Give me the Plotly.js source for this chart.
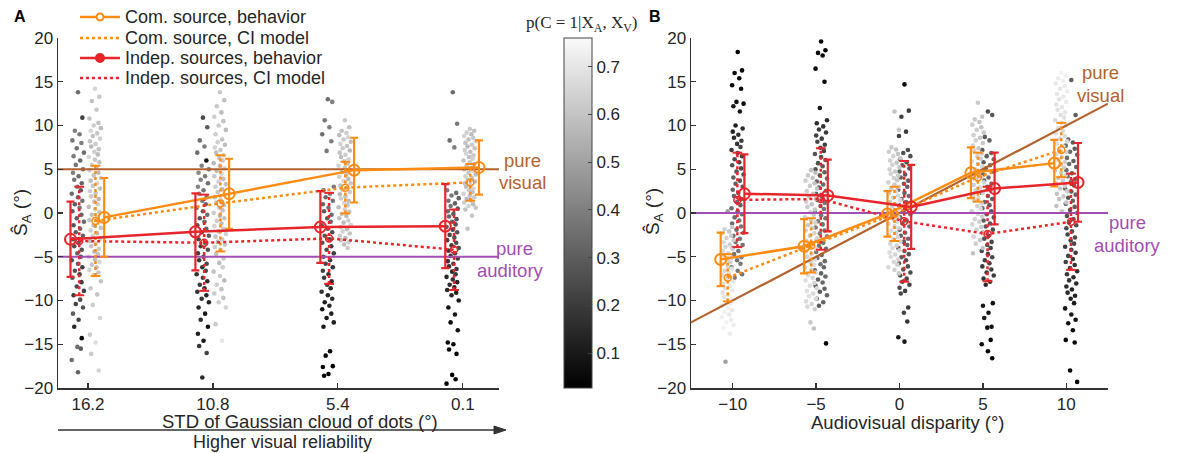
<!DOCTYPE html>
<html><head><meta charset="utf-8">
<script src="https://cdn.plot.ly/plotly-3.0.1.min.js"></script>
<style>html,body{margin:0;padding:0;background:#fff;} #chart{width:1193px;height:453px;}</style>
</head><body><div id="chart"></div>
<script>
const W = 1193, H = 453;

// ---------- Panel A data ----------
const catsA = [1, 2, 3, 4];
const tickTextA = ['16.2', '10.8', '5.4', '0.1'];
const comBehA = [-0.5, 2.2, 4.9, 5.2];
const comBehErrA = [4.5, 4.0, 3.7, 3.1];
const comModA = [-0.9, 1.1, 2.9, 3.5];
const comModErrA = [6.3, 5.5, 2.95, 2.1];
const indBehA = [-3.0, -2.15, -1.6, -1.5];
const indBehErrA = [4.3, 4.4, 4.1, 4.8];
const indModA = [-3.2, -3.4, -2.9, -4.2];
const indModErrA = [6.2, 5.5, 5.2, 4.6];
const pureVisualA = 5, pureAuditoryA = -5;

// dot clouds: [S_A estimate, p(C=1|XA,XV)]
const dotsA1dark = [[13.8,.35],[10.9,.22],[9.4,.4],[9.0,.38],[8.3,.38],[8.0,.4],[7.4,.36],[6.9,.35],[6.5,.4],[6.0,.33],[5.5,.38],[5.0,.35],[4.6,.4],[4.2,.34],[3.8,.38],[3.4,.33],[3.0,.38],[2.6,.3],[2.2,.35],[1.8,.32],[1.4,.36],[1.0,.3],[0.6,.38],[0.2,.3],[-0.2,.33],[-0.6,.3],[-1.0,.34],[-1.4,.28],[-1.8,.35],[-2.2,.3],[-2.6,.32],[-3.0,.25],[-3.4,.3],[-3.8,.27],[-4.2,.28],[-4.6,.32],[-5.0,.26],[-5.4,.25],[-5.8,.3],[-6.2,.22],[-6.6,.27],[-7.0,.22],[-7.4,.28],[-7.9,.2],[-8.4,.25],[-8.9,.22],[-9.4,.2],[-9.9,.26],[-10.4,.22],[-10.8,.28],[-11.5,.3],[-12.2,.22],[-13.0,.15],[-14.3,.06],[-15.3,.35],[-15.5,.3],[-16.8,.35],[-18.2,.32]];
const dotsA1light = [[14.2,.65],[13.3,.62],[12.8,.6],[11.8,.62],[10.8,.6],[10.3,.6],[10.0,.63],[9.7,.58],[9.4,.65],[9.1,.61],[8.8,.59],[8.5,.64],[8.2,.6],[7.9,.62],[7.6,.57],[7.3,.6],[7.0,.63],[6.7,.58],[6.4,.65],[6.1,.61],[5.8,.59],[5.5,.64],[5.2,.6],[4.9,.62],[4.6,.57],[4.3,.6],[4.0,.63],[3.7,.58],[3.4,.65],[3.1,.61],[2.8,.59],[2.5,.64],[2.2,.6],[1.9,.62],[1.6,.57],[1.3,.6],[1.0,.63],[0.7,.58],[0.4,.65],[0.1,.61],[-0.2,.59],[-0.5,.64],[-0.8,.6],[-1.1,.62],[-1.4,.57],[-1.7,.6],[-2.0,.63],[-2.3,.58],[-2.6,.65],[-2.9,.61],[-3.2,.59],[-3.5,.64],[-3.8,.6],[-4.1,.62],[-4.4,.57],[-4.7,.6],[-5.0,.63],[-5.3,.58],[-5.6,.65],[-5.9,.61],[-6.2,.59],[-6.5,.64],[-6.8,.6],[-7.1,.62],[-7.8,.6],[-8.6,.62],[-9.3,.6],[-10.5,.63],[-12.0,.65],[-13.9,.62],[-14.8,.68],[-16.1,.62],[-18.0,.65]];
const dotsA2dark = [[10.9,.25],[9.8,.3],[8.3,.35],[7.6,.4],[6.9,.35],[6.0,.08],[5.4,.4],[5.0,.36],[4.6,.42],[4.2,.38],[3.8,.4],[3.4,.35],[3.0,.42],[2.6,.37],[2.2,.4],[1.8,.34],[1.4,.38],[1.0,.32],[0.6,.36],[0.2,.3],[-0.2,.35],[-0.6,.28],[-1.0,.33],[-1.4,.27],[-1.8,.31],[-2.2,.25],[-2.6,.3],[-3.0,.24],[-3.4,.28],[-3.8,.22],[-4.2,.27],[-4.6,.21],[-5.0,.25],[-5.4,.2],[-5.8,.24],[-6.2,.18],[-6.6,.23],[-7.0,.17],[-7.4,.21],[-7.8,.16],[-8.2,.2],[-8.6,.15],[-9.0,.19],[-9.4,.14],[-9.8,.18],[-10.2,.13],[-10.8,.14],[-11.5,.1],[-12.2,.16],[-13.0,.08],[-13.8,.12],[-14.6,.1],[-15.2,.18],[-16.0,.22],[-18.8,.15]];
const dotsA2light = [[13.8,.62],[12.9,.6],[12.2,.62],[11.5,.58],[11.0,.63],[10.5,.6],[10.0,.62],[9.5,.58],[9.0,.63],[8.4,.6],[8.1,.63],[7.8,.58],[7.5,.65],[7.2,.61],[6.9,.59],[6.6,.64],[6.3,.6],[6.0,.62],[5.7,.57],[5.4,.6],[5.1,.63],[4.8,.58],[4.5,.65],[4.2,.61],[3.9,.59],[3.6,.64],[3.3,.6],[3.0,.62],[2.7,.57],[2.4,.6],[2.1,.63],[1.8,.58],[1.5,.65],[1.2,.61],[0.9,.59],[0.6,.64],[0.3,.6],[0.0,.62],[-0.3,.57],[-0.6,.6],[-0.9,.63],[-1.2,.58],[-1.5,.65],[-1.8,.61],[-2.1,.59],[-2.4,.64],[-2.7,.6],[-3.0,.62],[-3.3,.57],[-3.6,.6],[-3.9,.63],[-4.2,.58],[-4.7,.6],[-5.2,.62],[-5.7,.58],[-6.2,.63],[-6.7,.6],[-7.2,.62],[-7.7,.58],[-8.2,.63],[-8.7,.6],[-9.2,.62],[-9.7,.6],[-10.2,.63],[-10.8,.65],[-12.7,.62],[-14.6,.7]];
const dotsA3dark = [[13.0,.35],[12.7,.4],[10.6,.38],[9.8,.4],[9.0,.35],[8.2,.4],[7.1,.38],[3.0,.38],[2.6,.35],[2.2,.4],[1.8,.34],[1.4,.37],[1.0,.32],[0.6,.36],[0.2,.3],[-0.2,.34],[-0.6,.29],[-1.0,.33],[-1.4,.27],[-1.8,.31],[-2.2,.26],[-2.6,.29],[-3.0,.24],[-3.4,.28],[-3.8,.22],[-4.2,.26],[-4.6,.21],[-5.0,.25],[-5.4,.2],[-5.8,.23],[-6.2,.18],[-6.6,.22],[-7.0,.17],[-7.4,.2],[-7.8,.16],[-8.2,.19],[-8.6,.14],[-9.0,.17],[-9.4,.13],[-9.8,.16],[-10.2,.12],[-10.6,.14],[-11.0,.1],[-11.5,.13],[-12.0,.1],[-12.5,.12],[-13.0,.1],[-15.8,.05],[-16.3,.05],[-17.5,.04],[-17.6,.05],[-18.4,.04],[-18.6,.05]];
const dotsA3light = [[10.6,.62],[9.8,.6],[9.4,.6],[9.15,.63],[8.9,.58],[8.65,.65],[8.4,.61],[8.15,.59],[7.9,.64],[7.65,.6],[7.4,.62],[7.15,.57],[6.9,.6],[6.65,.63],[6.4,.58],[6.15,.65],[5.9,.61],[5.65,.59],[5.4,.64],[5.15,.6],[4.9,.62],[4.65,.57],[4.4,.6],[4.15,.63],[3.9,.58],[3.65,.65],[3.4,.61],[3.15,.59],[2.9,.64],[2.65,.6],[2.4,.62],[2.15,.57],[1.9,.6],[1.65,.63],[1.4,.58],[1.15,.65],[0.9,.61],[0.65,.59],[0.4,.64],[0.15,.6],[-0.1,.62],[-0.35,.57],[-0.6,.6],[-0.85,.63],[-1.1,.58],[-1.35,.65],[-1.6,.61],[-1.85,.59],[-2.1,.64],[-2.35,.6],[-2.6,.62],[-2.85,.57],[-3.1,.6],[-3.35,.63],[-3.6,.58],[-4.0,.62]];
const dotsA4dark = [[13.8,.35],[10.2,.38],[8.3,.35],[7.5,.4],[2.6,.4],[2.3,.35],[2.0,.38],[1.7,.33],[1.4,.37],[1.1,.32],[0.8,.36],[0.5,.3],[0.2,.34],[-0.1,.29],[-0.4,.33],[-0.7,.28],[-1.0,.31],[-1.3,.27],[-1.6,.3],[-1.9,.25],[-2.2,.28],[-2.5,.24],[-2.8,.27],[-3.1,.22],[-3.4,.26],[-3.7,.21],[-4.0,.24],[-4.3,.2],[-4.6,.23],[-4.9,.19],[-5.2,.22],[-5.5,.18],[-5.8,.21],[-6.1,.17],[-6.4,.2],[-6.7,.16],[-7.0,.19],[-7.3,.15],[-7.6,.18],[-7.9,.14],[-8.2,.16],[-8.5,.13],[-8.8,.15],[-9.1,.12],[-9.4,.14],[-10.0,.1],[-10.8,.08],[-11.6,.1],[-12.5,.06],[-13.4,.08],[-14.8,.05],[-15.0,.06],[-15.6,.05],[-16.1,.05],[-18.5,.04],[-19.0,.05],[-19.5,.04]];
const dotsA4light = [[9.6,.62],[9.4,.6],[9.2,.63],[9.0,.58],[8.8,.65],[8.6,.61],[8.4,.59],[8.2,.64],[8.0,.6],[7.8,.62],[7.6,.57],[7.4,.6],[7.2,.63],[7.0,.58],[6.8,.65],[6.6,.61],[6.4,.59],[6.2,.64],[6.0,.6],[5.8,.62],[5.6,.57],[5.4,.6],[5.2,.63],[5.0,.58],[4.8,.65],[4.6,.61],[4.4,.59],[4.2,.64],[4.0,.6],[3.8,.62],[3.6,.57],[3.4,.6],[3.2,.63],[3.0,.58],[2.8,.65],[2.6,.61],[2.4,.59],[2.2,.64],[2.0,.6],[1.8,.62],[1.6,.57],[1.4,.6],[1.2,.63],[1.0,.58],[0.8,.65],[0.6,.61],[0.4,.59],[-0.3,.62],[-1.8,.6]];

// ---------- Panel B data ----------
const catsB = [-10, -5, 0, 5, 10];
const comBehB = [-5.3, -3.8, -0.1, 4.6, 5.7];
const comBehErrB = [3.05, 3.1, 2.6, 2.9, 2.65];
const comModB = [-7.4, -3.7, -0.1, 4.1, 7.2];
const comModErrB = [2.7, 3.1, 3.1, 2.8, 3.1];
const indBehB = [2.2, 2.0, 0.7, 2.8, 3.5];
const indBehErrB = [4.5, 4.1, 4.8, 4.1, 4.5];
const indModB = [1.5, 1.6, -0.95, -2.4, -1.0];
const indModErrB = [5.4, 5.8, 6.9, 5.4, 5.5];
const pureAuditoryB = 0;

const dotsBm10dark = [[18.4,.04],[16.3,.05],[16.0,.05],[15.4,.06],[14.6,.05],[14.2,.06],[12.7,.08],[12.5,.06],[12.2,.1],[11.6,.1],[10.0,.12],[9.65,.15],[9.3,.13],[8.95,.16],[8.6,.15],[8.25,.2],[7.9,.18],[7.55,.22],[7.2,.2],[6.85,.24],[6.5,.22],[6.15,.25],[5.8,.23],[5.45,.27],[5.1,.25],[4.75,.28],[4.4,.26],[4.05,.3],[3.7,.28],[3.35,.31],[3.0,.29],[2.65,.32],[2.3,.3],[1.95,.33],[1.6,.31],[1.25,.34],[0.9,.32],[0.55,.35],[0.2,.33],[-0.15,.36],[-0.5,.34],[-0.85,.36],[-1.2,.34],[-1.55,.37],[-1.9,.35],[-2.25,.37],[-2.6,.35],[-2.95,.38],[-3.3,.36],[-3.65,.38],[-4.0,.36],[-4.35,.38],[-4.7,.36],[-5.05,.39],[-5.4,.36],[-5.8,.38],[-6.2,.36],[-6.6,.38],[-7.0,.36],[-7.4,.38]];
const dotsBm10light = [[0.2,.5],[-1.6,.62],[-1.85,.64],[-2.1,.61],[-2.35,.65],[-2.6,.62],[-2.85,.64],[-3.1,.63],[-3.35,.66],[-3.6,.63],[-3.85,.65],[-4.1,.64],[-4.35,.66],[-4.6,.64],[-4.85,.67],[-5.1,.65],[-5.35,.67],[-5.6,.65],[-5.85,.68],[-6.1,.66],[-6.35,.68],[-6.6,.66],[-6.85,.69],[-7.1,.67],[-7.35,.69],[-7.6,.67],[-7.85,.7],[-8.1,.68],[-8.35,.7],[-8.6,.68],[-8.85,.71],[-9.1,.69],[-9.35,.71],[-9.6,.69],[-9.85,.72],[-10.1,.7],[-10.35,.72],[-10.6,.7],[-10.85,.73],[-11.1,.71],[-11.35,.73],[-11.6,.71],[-11.9,.73],[-12.2,.72],[-12.5,.74],[-12.8,.72],[-13.1,.74],[-13.8,.72],[-17.0,.5]];
const dotsBm5dark = [[19.6,.04],[18.6,.04],[18.3,.05],[18.0,.05],[16.5,.05],[15.0,.05],[12.0,.1],[10.6,.15],[10.25,.16],[9.9,.18],[9.55,.2],[9.2,.19],[8.85,.22],[8.5,.2],[8.15,.24],[7.8,.22],[7.45,.25],[7.1,.23],[6.75,.27],[6.4,.25],[6.05,.28],[5.7,.26],[5.35,.3],[5.0,.28],[4.65,.31],[4.3,.29],[3.95,.33],[3.6,.31],[3.25,.34],[2.9,.32],[2.55,.35],[2.2,.33],[1.85,.36],[1.5,.34],[1.15,.37],[0.8,.35],[0.45,.37],[0.1,.35],[-0.25,.38],[-0.6,.36],[-0.95,.38],[-1.3,.36],[-1.65,.38],[-2.0,.36],[-2.35,.39],[-2.7,.36],[-3.05,.38],[-3.4,.36],[-3.75,.38],[-4.1,.35],[-4.45,.37],[-4.8,.35],[-5.15,.37],[-5.5,.34],[-5.85,.36],[-6.2,.33],[-6.55,.35],[-6.9,.32],[-7.25,.34],[-7.6,.31],[-7.95,.33],[-8.3,.3],[-8.65,.32],[-9.0,.3],[-9.4,.32],[-9.8,.3],[-10.2,.32],[-10.6,.3],[-14.9,.05]];
const dotsBm5light = [[4.9,.6],[4.6,.58],[4.3,.62],[4.0,.6],[3.7,.63],[3.4,.6],[3.1,.62],[2.8,.6],[2.5,.63],[2.2,.6],[1.9,.62],[1.6,.6],[1.3,.63],[1.0,.6],[0.7,.62],[0.4,.61],[0.1,.64],[-0.2,.61],[-0.5,.63],[-0.8,.61],[-1.1,.64],[-1.4,.62],[-1.7,.64],[-2.0,.62],[-2.3,.65],[-2.6,.62],[-2.9,.65],[-3.2,.63],[-3.5,.65],[-3.8,.63],[-4.1,.66],[-4.4,.63],[-4.7,.66],[-5.0,.64],[-5.3,.66],[-5.6,.64],[-5.9,.67],[-6.2,.64],[-6.5,.67],[-6.8,.65],[-7.1,.67],[-7.4,.65],[-7.7,.68],[-8.0,.65],[-8.3,.68],[-8.6,.66],[-8.9,.68],[-9.2,.66],[-9.5,.68],[-9.8,.66],[-10.1,.67],[-10.4,.65],[-10.7,.66],[-11.0,.64],[-12.5,.62],[-13.2,.6]];
const dotsB0dark = [[14.7,.05],[11.7,.2],[11.0,.22],[9.3,.2],[8.8,.22],[7.2,.25],[6.85,.27],[6.5,.26],[6.15,.28],[5.8,.27],[5.45,.3],[5.1,.28],[4.75,.31],[4.4,.29],[4.05,.32],[3.7,.3],[3.35,.33],[3.0,.31],[2.65,.34],[2.3,.32],[1.95,.35],[1.6,.33],[1.25,.35],[0.9,.33],[0.55,.36],[0.2,.33],[-0.15,.35],[-0.5,.32],[-0.85,.35],[-1.2,.32],[-1.55,.34],[-1.9,.31],[-2.25,.34],[-2.6,.31],[-2.95,.33],[-3.3,.3],[-3.65,.32],[-4.0,.29],[-4.35,.31],[-4.7,.28],[-5.05,.3],[-5.4,.27],[-5.75,.29],[-6.1,.26],[-6.45,.28],[-6.8,.25],[-7.15,.27],[-7.5,.24],[-7.85,.26],[-8.2,.23],[-8.55,.25],[-8.9,.22],[-9.2,.24],[-10.8,.2],[-11.4,.22],[-12.4,.18],[-14.2,.1],[-14.7,.1]];
const dotsB0light = [[11.6,.6],[9.5,.62],[7.5,.62],[7.25,.6],[7.0,.63],[6.75,.6],[6.5,.64],[6.25,.61],[6.0,.63],[5.75,.6],[5.5,.64],[5.25,.61],[5.0,.64],[4.75,.62],[4.5,.65],[4.25,.62],[4.0,.64],[3.75,.61],[3.5,.65],[3.25,.62],[3.0,.65],[2.75,.62],[2.5,.65],[2.25,.63],[2.0,.66],[1.75,.63],[1.5,.65],[1.25,.62],[1.0,.66],[0.75,.63],[0.5,.66],[0.25,.63],[0.0,.66],[-0.25,.63],[-0.5,.66],[-0.75,.64],[-1.0,.66],[-1.25,.63],[-1.5,.66],[-1.75,.64],[-2.0,.67],[-2.25,.64],[-2.5,.66],[-2.75,.64],[-3.0,.67],[-3.25,.64],[-3.5,.66],[-3.75,.64],[-4.0,.67],[-4.25,.65],[-4.5,.67],[-4.75,.65],[-5.0,.67],[-5.3,.65],[-5.6,.66],[-5.9,.64],[-6.2,.66],[-6.5,.64],[-6.9,.62]];
const dotsB5dark = [[11.6,.25],[11.2,.28],[8.7,.3],[8.3,.32],[7.2,.3],[6.85,.33],[6.5,.31],[6.15,.34],[5.8,.31],[5.45,.34],[5.1,.32],[4.75,.35],[4.4,.32],[4.05,.35],[3.7,.32],[3.35,.34],[3.0,.31],[2.65,.34],[2.3,.31],[1.95,.33],[1.6,.3],[1.25,.33],[0.9,.3],[0.55,.32],[0.2,.29],[-0.15,.31],[-0.5,.28],[-0.85,.3],[-1.2,.27],[-1.55,.29],[-1.9,.26],[-2.25,.28],[-2.6,.25],[-2.95,.27],[-3.3,.24],[-3.65,.26],[-4.0,.23],[-4.35,.25],[-4.7,.22],[-5.05,.24],[-5.4,.21],[-5.75,.23],[-6.1,.2],[-6.45,.22],[-6.8,.19],[-7.15,.21],[-7.5,.18],[-7.85,.2],[-8.2,.17],[-10.3,.08],[-10.6,.1],[-11.4,.08],[-12.0,.1],[-13.0,.07],[-13.1,.08],[-14.5,.05],[-15.0,.06],[-15.8,.05],[-16.6,.05]];
const dotsB5light = [[12.6,.62],[11.0,.6],[10.7,.62],[10.4,.6],[10.1,.63],[9.8,.6],[9.5,.63],[9.2,.61],[8.9,.64],[8.6,.61],[8.3,.64],[8.0,.61],[7.7,.64],[7.4,.62],[7.1,.65],[6.8,.62],[6.5,.65],[6.2,.62],[5.9,.65],[5.6,.62],[5.3,.65],[5.0,.62],[4.7,.65],[4.4,.62],[4.1,.65],[3.8,.63],[3.5,.65],[3.2,.63],[2.9,.66],[2.6,.63],[2.3,.65],[2.0,.63],[1.7,.66],[1.4,.63],[1.1,.65],[0.8,.63],[0.5,.66],[0.2,.63],[-0.1,.65],[-0.4,.63],[-0.7,.65],[-1.0,.63],[-1.3,.65],[-1.6,.62],[-1.9,.64],[-2.3,.62],[-2.7,.64],[-3.1,.62],[-3.5,.63],[-4.0,.61],[-4.6,.6]];
const dotsB10dark = [[15.2,.3],[11.2,.3],[8.4,.32],[8.05,.3],[7.7,.33],[7.35,.3],[7.0,.34],[6.65,.31],[6.3,.34],[5.95,.31],[5.6,.34],[5.25,.31],[4.9,.34],[4.55,.31],[4.2,.34],[3.85,.31],[3.5,.33],[3.15,.3],[2.8,.33],[2.45,.3],[2.1,.32],[1.75,.29],[1.4,.31],[1.05,.28],[0.7,.3],[0.35,.27],[0.0,.29],[-0.35,.26],[-0.7,.28],[-1.05,.25],[-1.4,.27],[-1.75,.24],[-2.1,.26],[-2.45,.23],[-2.8,.25],[-3.15,.22],[-3.5,.24],[-3.85,.21],[-4.2,.23],[-4.55,.2],[-4.9,.22],[-5.25,.19],[-5.6,.21],[-5.95,.18],[-6.3,.2],[-6.65,.17],[-7.0,.19],[-7.35,.16],[-7.7,.18],[-8.05,.15],[-8.4,.16],[-8.75,.13],[-9.1,.15],[-9.45,.12],[-9.8,.13],[-10.3,.1],[-10.9,.08],[-11.6,.1],[-12.2,.07],[-12.6,.08],[-13.4,.06],[-14.5,.05],[-14.8,.05],[-18.0,.04],[-19.3,.04]];
const dotsB10light = [[16.0,.74],[15.7,.73],[15.4,.72],[15.1,.73],[14.8,.71],[14.5,.72],[14.2,.7],[13.9,.72],[13.6,.7],[13.3,.71],[13.0,.69],[12.7,.71],[12.4,.69],[12.1,.7],[11.8,.68],[11.5,.7],[11.2,.68],[10.9,.69],[10.6,.67],[10.3,.69],[10.0,.67],[9.7,.68],[9.4,.66],[9.1,.68],[8.8,.66],[8.5,.67],[8.2,.65],[7.9,.67],[7.6,.65],[7.3,.66],[7.0,.64],[6.7,.66],[6.4,.64],[6.1,.65],[5.8,.63],[5.5,.65],[5.2,.63],[4.9,.64],[4.6,.62],[4.3,.64],[4.0,.62],[3.7,.63],[3.4,.61],[3.1,.63],[2.8,.61],[2.5,.62],[2.2,.6],[1.9,.62],[1.6,.6],[1.2,.61],[0.8,.6],[0.2,.6]];

// ---------- styling ----------
const ORANGE = '#FF8C12', RED = '#E8252B', BROWN = '#B3622D', PURPLE = '#A24EB3';
const FONT = 'Liberation Sans, Arial, sans-serif';
const TXT = '#262626';
const px = x => x / W, py = y => 1 - y / H;
// fixed horizontal spread pattern for the dot columns (fraction of half-width)
const SPREAD = [0, 0.7, -0.5, 0.25, -0.9, 0.55, -0.2, 0.95, -0.7, 0.35, -0.35, 0.8, -0.8, 0.1, -0.6, 0.6, -0.1, 0.45, -1.0];

function cloud(xc, pts, hw, xa, ya) {
  return {
    type: 'scatter', mode: 'markers', xaxis: xa, yaxis: ya,
    x: pts.map((_, i) => xc + SPREAD[i % SPREAD.length] * hw), y: pts.map(p => p[0]),
    marker: {size: 4.6, color: pts.map(p => p[1]), coloraxis: 'coloraxis', line: {width: 0}},
    hoverinfo: 'skip', showlegend: false
  };
}
function behav(xs, ys, es, col, xa, ya) {
  return {type: 'scatter', mode: 'lines+markers', x: xs, y: ys, xaxis: xa, yaxis: ya,
    line: {color: col, width: 2.5},
    marker: {symbol: 'circle-open', size: 11, color: col, line: {width: 2, color: col}},
    error_y: {type: 'data', array: es, visible: true, color: col, thickness: 2.2, width: 4},
    showlegend: false, hoverinfo: 'skip'};
}
function model(xs, ys, es, col, xa, ya) {
  const bx = [], by = [], cx = [], cy = [];
  xs.forEach((x, i) => { bx.push(x, x, null); by.push(ys[i] - es[i], ys[i] + es[i], null);
    cx.push(x, x); cy.push(ys[i] - es[i], ys[i] + es[i]); });
  return [
    {type: 'scatter', mode: 'lines', x: bx, y: by, xaxis: xa, yaxis: ya,
     line: {color: col, width: 2.5, dash: 'dot'}, showlegend: false, hoverinfo: 'skip'},
    {type: 'scatter', mode: 'markers', x: cx, y: cy, xaxis: xa, yaxis: ya,
     marker: {symbol: 'line-ew', size: 7, color: col, line: {width: 2, color: col}}, showlegend: false, hoverinfo: 'skip'},
    {type: 'scatter', mode: 'lines+markers', x: xs, y: ys, xaxis: xa, yaxis: ya,
     line: {color: col, width: 2.5, dash: 'dot'},
     marker: {symbol: 'circle-open', size: 7, color: col, line: {width: 1.5, color: col}}, showlegend: false, hoverinfo: 'skip'}
  ];
}
const off = (cats, d) => cats.map(c => c + d);

const rangeA = [0.76, 4.29], rangeB = [-12.5, 12.5];
const darkA = [dotsA1dark, dotsA2dark, dotsA3dark, dotsA4dark];
const lightA = [dotsA1light, dotsA2light, dotsA3light, dotsA4light];
const darkB = [dotsBm10dark, dotsBm5dark, dotsB0dark, dotsB5dark, dotsB10dark];
const lightB = [dotsBm10light, dotsBm5light, dotsB0light, dotsB5light, dotsB10light];

const traces = [];
catsA.forEach((c, i) => {
  traces.push(cloud(c - 0.08, darkA[i], 0.05, 'x', 'y'));
  traces.push(cloud(c + 0.056, lightA[i], 0.05, 'x', 'y'));
});
catsB.forEach((c, i) => {
  traces.push(cloud(c + 0.3, darkB[i], 0.37, 'x2', 'y2'));
  traces.push(cloud(c - 0.3, lightB[i], 0.37, 'x2', 'y2'));
});
const refLine = (xs, ys, col, xa, ya) => ({type: 'scatter', mode: 'lines', x: xs, y: ys, xaxis: xa, yaxis: ya,
  line: {color: col, width: 2.2}, showlegend: false, hoverinfo: 'skip'});
traces.push(refLine(rangeA, [pureVisualA, pureVisualA], BROWN, 'x', 'y'));
traces.push(refLine(rangeA, [pureAuditoryA, pureAuditoryA], PURPLE, 'x', 'y'));
traces.push(refLine(rangeB, rangeB, BROWN, 'x2', 'y2'));
traces.push(refLine(rangeB, [pureAuditoryB, pureAuditoryB], PURPLE, 'x2', 'y2'));
traces.push(...model(off(catsA, 0.06), comModA, comModErrA, ORANGE, 'x', 'y'));
traces.push(...model(off(catsA, -0.07), indModA, indModErrA, RED, 'x', 'y'));
traces.push(behav(off(catsA, 0.13), comBehA, comBehErrA, ORANGE, 'x', 'y'));
traces.push(behav(off(catsA, -0.14), indBehA, indBehErrA, RED, 'x', 'y'));
traces.push(...model(off(catsB, -0.3), comModB, comModErrB, ORANGE, 'x2', 'y2'));
traces.push(...model(off(catsB, 0.28), indModB, indModErrB, RED, 'x2', 'y2'));
traces.push(behav(off(catsB, -0.72), comBehB, comBehErrB, ORANGE, 'x2', 'y2'));
traces.push(behav(off(catsB, 0.7), indBehB, indBehErrB, RED, 'x2', 'y2'));

const axBase = {showline: true, linecolor: '#333', linewidth: 1.5, ticks: 'inside', ticklen: 5, tickwidth: 1.3,
  tickcolor: '#333', showgrid: false, zeroline: false, tickfont: {family: FONT, size: 17, color: TXT}, fixedrange: true};
const yTicks = [-20, -15, -10, -5, 0, 5, 10, 15, 20];
const yDom = [65 / H, 415 / H];
const BIG = 18.5;

const ann = (x, y, text, o) => Object.assign({xref: 'paper', yref: 'paper', x: px(x), y: py(y), text: text,
  showarrow: false, xanchor: 'center', yanchor: 'middle', font: {family: FONT, size: BIG, color: TXT}}, o || {});

const annotations = [
  ann(20, 17, '<b>A</b>', {font: {family: FONT, size: 16, color: '#000'}}),
  ann(655, 17, '<b>B</b>', {font: {family: FONT, size: 16, color: '#000'}}),
  ann(22, 212, 'Ŝ<sub>A</sub> (°)', {textangle: -90, font: {family: FONT, size: 19, color: TXT}}),
  ann(654, 212, 'Ŝ<sub>A</sub> (°)', {textangle: -90, font: {family: FONT, size: 19, color: TXT}}),
  ann(300, 421, 'STD of Gaussian cloud of dots (°)'),
  ann(282, 442, 'Higher visual reliability', {font: {family: FONT, size: 18, color: TXT}}),
  ann(908, 422, 'Audiovisual disparity (°)'),
  ann(581, 24, 'p(C = 1|X<sub>A</sub>, X<sub>V</sub>)', {font: {family: 'Liberation Serif, serif', size: 17, color: TXT}}),
  ann(522, 160, 'pure', {font: {family: FONT, size: BIG, color: BROWN}}),
  ann(522, 182, 'visual', {font: {family: FONT, size: BIG, color: BROWN}}),
  ann(514, 248, 'pure', {font: {family: FONT, size: BIG, color: PURPLE}}),
  ann(510, 270, 'auditory', {font: {family: FONT, size: BIG, color: PURPLE}}),
  ann(1100, 73, 'pure', {font: {family: FONT, size: BIG, color: BROWN}}),
  ann(1100, 96, 'visual', {font: {family: FONT, size: BIG, color: BROWN}}),
  ann(1127, 222, 'pure', {font: {family: FONT, size: BIG, color: PURPLE}}),
  ann(1127, 245, 'auditory', {font: {family: FONT, size: BIG, color: PURPLE}})
];
const legendItems = [
  {label: 'Com. source, behavior', col: ORANGE, dash: 'solid', mk: 'open', y: 17},
  {label: 'Com. source, CI model', col: ORANGE, dash: 'dot', mk: null, y: 38},
  {label: 'Indep. sources, behavior', col: RED, dash: 'solid', mk: 'fill', y: 58},
  {label: 'Indep. sources, CI model', col: RED, dash: 'dot', mk: null, y: 78}
];
const shapes = [];
legendItems.forEach(it => {
  shapes.push({type: 'line', xref: 'paper', yref: 'paper', x0: px(80), x1: px(120), y0: py(it.y), y1: py(it.y),
    line: {color: it.col, width: 2.5, dash: it.dash}});
  if (it.mk) {
    const r = it.mk === 'open' ? 3.5 : 4;
    shapes.push({type: 'circle', xref: 'paper', yref: 'paper', x0: px(100 - r), x1: px(100 + r), y0: py(it.y + r), y1: py(it.y - r),
      line: {color: it.col, width: 2}, fillcolor: it.mk === 'open' ? '#fff' : it.col});
  }
  annotations.push(ann(123, it.y, it.label, {xanchor: 'left', font: {family: FONT, size: 18, color: TXT}}));
});
shapes.push({type: 'line', xref: 'paper', yref: 'paper', x0: px(58), x1: px(496), y0: py(430), y1: py(430),
  line: {color: '#333', width: 1.5}});
shapes.push({type: 'path', xref: 'paper', yref: 'paper',
  path: `M ${px(506)} ${py(430)} L ${px(494)} ${py(426)} L ${px(494)} ${py(434)} Z`,
  fillcolor: '#333', line: {color: '#333', width: 1}});

const layout = {
  width: W, height: H, margin: {l: 0, r: 0, t: 0, b: 0}, paper_bgcolor: '#fff', plot_bgcolor: '#fff',
  showlegend: false,
  xaxis: Object.assign({}, axBase, {domain: [58 / W, 499 / W], range: rangeA, tickvals: catsA, ticktext: tickTextA, anchor: 'y'}),
  yaxis: Object.assign({}, axBase, {domain: yDom, range: [-20, 20], tickvals: yTicks, anchor: 'x'}),
  xaxis2: Object.assign({}, axBase, {domain: [691 / W, 1108 / W], range: rangeB, tickvals: catsB, anchor: 'y2'}),
  yaxis2: Object.assign({}, axBase, {domain: yDom, range: [-20, 20], tickvals: yTicks, anchor: 'x2'}),
  coloraxis: {
    cmin: 0.027, cmax: 0.76,
    colorscale: [[0, 'rgb(0,0,0)'], [1, 'rgb(250,250,250)']],
    colorbar: {x: px(564), xanchor: 'left', xpad: 0, ypad: 0, y: py(213), yanchor: 'middle',
      len: 350, lenmode: 'pixels', thickness: 28, thicknessmode: 'pixels',
      outlinewidth: 1, outlinecolor: '#444', tickvals: [0.1, 0.2, 0.3, 0.4, 0.5, 0.6, 0.7],
      ticks: 'inside', ticklen: 4, tickcolor: '#444', tickfont: {family: FONT, size: 17, color: TXT}}
  },
  annotations: annotations, shapes: shapes
};
Plotly.newPlot('chart', traces, layout, {staticPlot: true, displayModeBar: false});
</script>
</body></html>
